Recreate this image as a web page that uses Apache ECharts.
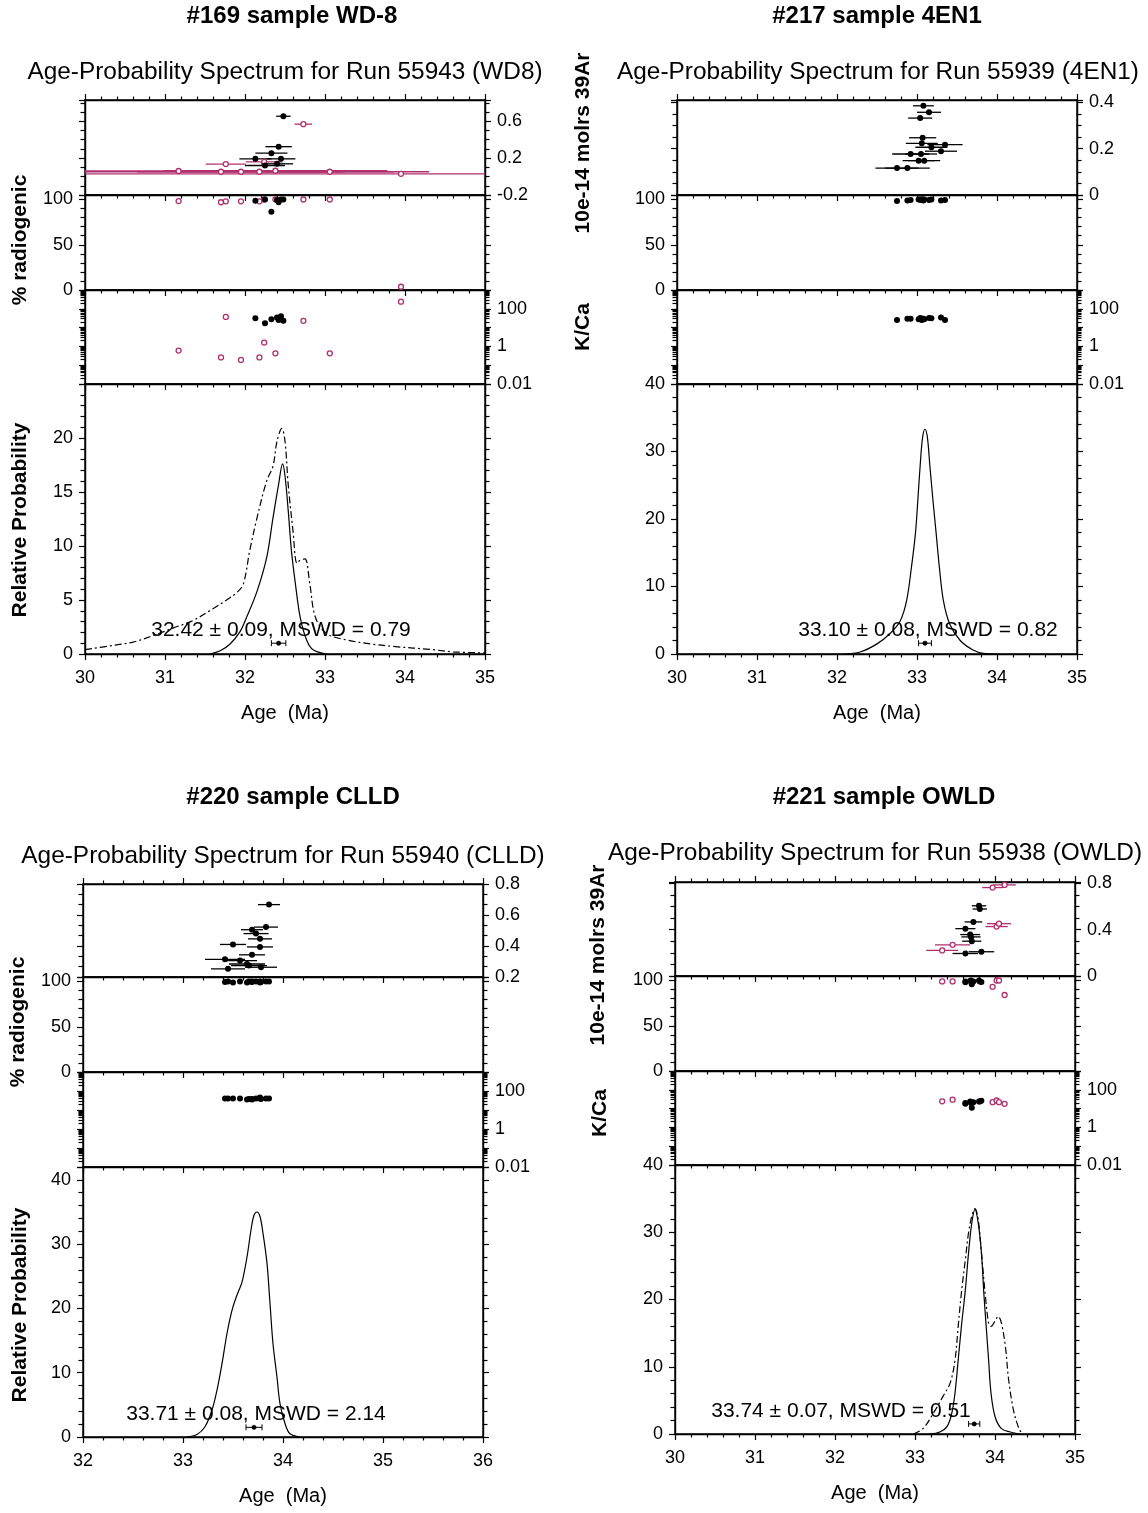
<!DOCTYPE html>
<html>
<head>
<meta charset="utf-8">
<title>Age-Probability Spectra</title>
<script src="https://cdn.jsdelivr.net/npm/echarts@6/dist/echarts.min.js"></script>
<style>
  html, body { margin: 0; padding: 0; background: #fff; }
  #chart { width: 1148px; height: 1513px; }
</style>
</head>
<body>
<div id="chart"></div>
<script>
// ---------- values ----------
// #169 WD-8 : included steps (black) / excluded steps (magenta)
const ages1In  = [32.13, 32.25, 32.33, 32.40, 32.42, 32.45, 32.48];
const moles1In = [0.192, 0.12, 0.253, 0.138, 0.324, 0.192, 0.654];
const err1In   = [0.20, 0.25, 0.20, 0.20, 0.165, 0.18, 0.09];
const rad1In   = [98.6, 100, 86.5, 99.4, 97, 100, 100];
const kca1In   = [31.6, 17, 28, 34, 25.5, 40, 23];

const ages1Ex  = [31.17, 31.70, 31.76, 31.95, 32.18, 32.24, 32.38, 32.73, 33.06, 33.95];
const moles1Ex = [0.06, 0.052, 0.135, 0.052, 0.052, 0.16, 0.063, 0.568, 0.052, 0.03];
const err1Ex   = [1.6, 2.6, 0.25, 1.3, 1.0, 0.23, 1.4, 0.11, 0.8, 4.0];
const rad1Ex   = [98.3, 97, 98, 98, 98, 100, 100, 100, 100, 3.6];
const kca1Ex   = [0.6, 0.26, 37, 0.19, 0.26, 1.6, 0.43, 23, 0.43, 240];

const prob1Solid = [[31.56,0],[31.69,0.3],[31.81,0.9],[31.94,2.1],[32.02,3.4],[32.15,5.8],[32.27,8.9],[32.35,12.6],[32.42,15.7],[32.47,17.6],[32.50,16.5],[32.54,13.3],[32.58,9.6],[32.63,6.5],[32.69,3.4],[32.77,1.3],[32.85,0.4],[33.02,0]];
const prob1Dashed = [[30.0,0.4],[30.35,0.8],[30.6,1.1],[30.85,1.7],[31.10,2.4],[31.35,3.1],[31.60,4.2],[31.77,5.0],[31.90,5.7],[31.98,6.5],[32.06,9.6],[32.15,12.6],[32.27,16.0],[32.35,17.4],[32.40,19.7],[32.46,20.9],[32.50,19.7],[32.54,15.7],[32.60,11.4],[32.65,8.4],[32.69,8.7],[32.75,8.8],[32.81,6.5],[32.88,3.4],[33.02,1.9],[33.27,1.3],[33.60,0.9],[33.85,0.7],[34.35,0.4],[34.60,0.2],[35.0,0.1]];
const mean1 = [32.42, 0.09, 1.0];

// #217 4EN1
const ages2  = [32.75, 32.88, 32.92, 33.02, 33.04, 33.05, 33.06, 33.07, 33.08, 33.09, 33.15, 33.18, 33.30, 33.35];
const moles2 = [0.116, 0.116, 0.177, 0.148, 0.332, 0.177, 0.223, 0.247, 0.385, 0.148, 0.357, 0.206, 0.189, 0.217];
const err2   = [0.27, 0.28, 0.23, 0.20, 0.15, 0.20, 0.20, 0.17, 0.13, 0.20, 0.15, 0.20, 0.20, 0.22];
const rad2   = [98.5, 99, 99.5, 100, 100, 99.5, 100, 100, 99, 100, 99.5, 100, 99, 99.5];
const kca2   = [25, 30, 30, 28, 32, 28, 25, 30, 30, 28, 32, 31, 34, 25];
const prob2  = [[32.08,0],[32.29,0.3],[32.50,1.5],[32.66,3.0],[32.79,4.9],[32.87,7.9],[32.93,12.8],[32.98,17.8],[33.01,22.7],[33.04,28.0],[33.07,32.1],[33.10,33.3],[33.13,32.1],[33.16,28.0],[33.20,22.7],[33.24,17.8],[33.28,12.8],[33.33,7.9],[33.41,4.4],[33.54,2.0],[33.70,0.6],[33.83,0.1],[34.0,0]];
const mean2 = [33.10, 0.08, 1.6];

// #220 CLLD
const ages3  = [33.42, 33.45, 33.50, 33.57, 33.64, 33.66, 33.69, 33.69, 33.73, 33.77, 33.77, 33.78, 33.83, 33.86];
const moles3 = [0.314, 0.253, 0.41, 0.306, 0.284, 0.274, 0.505, 0.343, 0.48, 0.446, 0.394, 0.263, 0.522, 0.667];
const err3   = [0.20, 0.17, 0.13, 0.17, 0.18, 0.18, 0.11, 0.13, 0.125, 0.12, 0.13, 0.16, 0.12, 0.11];
const rad3   = [99.5, 100, 99, 100, 99, 100, 99.5, 100, 100, 99, 100, 99.5, 100, 100];
const kca3   = [40, 40, 40, 40, 36, 38, 36, 38, 40, 45, 40, 38, 40, 40];
const prob3  = [[33.04,0],[33.14,0.4],[33.22,1.6],[33.29,4.2],[33.34,7.3],[33.39,11.4],[33.44,16.1],[33.49,19.7],[33.54,22.1],[33.59,24.1],[33.64,28.0],[33.68,32.2],[33.71,34.5],[33.74,35.0],[33.77,34.3],[33.80,31.7],[33.84,27.0],[33.87,20.8],[33.90,14.5],[33.94,9.3],[33.97,5.2],[34.02,2.1],[34.07,0.5],[34.17,0]];
const mean3 = [33.71, 0.08, 1.5];

// #221 OWLD
const ages4In  = [33.63, 33.63, 33.69, 33.70, 33.71, 33.73, 33.80, 33.81, 33.83];
const moles4In = [0.408, 0.194, 0.357, 0.337, 0.30, 0.466, 0.605, 0.577, 0.209];
const err4In   = [0.125, 0.16, 0.125, 0.12, 0.12, 0.11, 0.09, 0.09, 0.16];
const rad4In   = [98, 99, 99.5, 100, 96, 99, 100, 99, 98.5];
const kca4In   = [18, 20, 24, 20, 11, 22, 24, 24, 26];

const ages4Ex  = [33.34, 33.47, 33.97, 34.02, 34.05, 34.12];
const moles4Ex = [0.22, 0.269, 0.762, 0.426, 0.451, 0.785];
const err4Ex   = [0.20, 0.22, 0.13, 0.14, 0.15, 0.14];
const rad4Ex   = [99, 99, 93, 100, 100, 84];
const kca4Ex   = [24.5, 30, 22, 27, 22, 18];

const prob4Solid = [[33.19,0],[33.31,0.3],[33.40,1.1],[33.46,3.1],[33.50,6.1],[33.54,11.0],[33.58,16.0],[33.63,21.5],[33.67,27.0],[33.71,31.4],[33.75,33.4],[33.79,31.4],[33.83,27.0],[33.86,21.0],[33.89,16.0],[33.92,11.0],[33.95,6.1],[34.00,2.6],[34.08,0.8],[34.19,0.3],[34.31,0]];
const prob4Dashed = [[32.98,0],[33.10,0.8],[33.23,3.1],[33.35,5.6],[33.44,7.6],[33.50,11.0],[33.54,16.0],[33.58,21.0],[33.63,26.0],[33.67,30.0],[33.71,32.4],[33.75,33.5],[33.79,31.9],[33.83,27.0],[33.88,20.5],[33.92,16.5],[33.95,16.0],[34.00,16.8],[34.04,17.5],[34.08,16.5],[34.13,13.0],[34.17,8.1],[34.23,3.6],[34.29,1.1],[34.33,0.2],[34.36,0]];
const mean4 = [33.74, 0.07, 1.5];

// tick labels
const molesLabels1 = [-0.2, 0.2, 0.6];
const molesLabels2 = [0, 0.2, 0.4];
const molesLabels3 = [0.2, 0.4, 0.6, 0.8];
const molesLabels4 = [0, 0.4, 0.8];
const radLabels    = [0, 50, 100];
const kcaLabels    = [0.01, 1, 100];
const probLabels1  = [0, 5, 10, 15, 20];
const probLabels   = [0, 10, 20, 30, 40];

// ---------- layout / styling ----------
const FONT = "'Liberation Sans', Arial, Helvetica, sans-serif";
const MAG = '#b0306e';
const lineStyleAx = { color: '#000', width: 1.4 };
const tickStyle = { color: '#000', width: 1.2 };

const labelFmt = (labels, log) => v => {
  const hit = labels.find(l => log ? Math.abs(Math.log10(v) - Math.log10(l)) < 1e-6 : Math.abs(v - l) < 1e-6);
  return hit === undefined ? '' : String(hit);
};

const RAD = { min: 0, max: 105, interval: 50, split: 5, labels: radLabels, side: 'left' };
const KCA = { log: true, min: 0.01, max: 1000, interval: 1, split: 9, labels: kcaLabels, side: 'right' };

const panels = [
  {
    left: 85, width: 400, tops: [100, 195, 290, 384, 654], xRange: [30, 35],
    moles: { min: -0.2, max: 0.83, interval: 0.4, split: 4, labels: molesLabels1, side: 'right' },
    prob: { min: 0, max: 25, interval: 5, split: 5, labels: probLabels1, side: 'left' },
    sets: [
      { ages: ages1Ex, moles: moles1Ex, err: err1Ex, rad: rad1Ex, kca: kca1Ex, open: true },
      { ages: ages1In, moles: moles1In, err: err1In, rad: rad1In, kca: kca1In, open: false }
    ],
    curves: [{ data: prob1Dashed, dashed: true }, { data: prob1Solid, dashed: false }],
    mean: mean1
  },
  {
    left: 677, width: 400, tops: [100, 195, 290, 384, 654], xRange: [30, 35],
    moles: { min: 0, max: 0.41, interval: 0.2, split: 4, labels: molesLabels2, side: 'right' },
    prob: { min: 0, max: 40, interval: 10, split: 5, labels: probLabels, side: 'left' },
    sets: [{ ages: ages2, moles: moles2, err: err2, rad: rad2, kca: kca2, open: false }],
    curves: [{ data: prob2, dashed: false }],
    mean: mean2
  },
  {
    left: 83, width: 400, tops: [884, 977, 1072, 1167, 1437], xRange: [32, 36],
    moles: { min: 0.2, max: 0.8, interval: 0.2, split: 3, labels: molesLabels3, side: 'right' },
    prob: { min: 0, max: 42, interval: 10, split: 5, labels: probLabels, side: 'left' },
    sets: [{ ages: ages3, moles: moles3, err: err3, rad: rad3, kca: kca3, open: false }],
    curves: [{ data: prob3, dashed: false }],
    mean: mean3
  },
  {
    left: 675, width: 400, tops: [882, 976, 1071, 1165, 1434], xRange: [30, 35],
    moles: { min: 0, max: 0.81, interval: 0.4, split: 4, labels: molesLabels4, side: 'right' },
    prob: { min: 0, max: 40, interval: 10, split: 5, labels: probLabels, side: 'left' },
    sets: [
      { ages: ages4Ex, moles: moles4Ex, err: err4Ex, rad: rad4Ex, kca: kca4Ex, open: true },
      { ages: ages4In, moles: moles4In, err: err4In, rad: rad4In, kca: kca4In, open: false }
    ],
    curves: [{ data: prob4Dashed, dashed: true }, { data: prob4Solid, dashed: false }],
    mean: mean4
  }
];

// ---------- render helpers ----------
function errBar(params, api) {
  const cs = params.coordSys;
  const a = api.value(0), v = api.value(1), e = api.value(2);
  const p1 = api.coord([a - e, v]), p2 = api.coord([a + e, v]);
  const x1 = Math.max(p1[0], cs.x), x2 = Math.min(p2[0], cs.x + cs.width);
  return {
    type: 'line',
    shape: { x1: x1, y1: p1[1], x2: x2, y2: p1[1] },
    style: { stroke: api.visual('color'), lineWidth: 1.3 }
  };
}

function meanMark(params, api) {
  const a = api.value(0), e = api.value(1), v = api.value(2);
  const c = api.coord([a, v]), l = api.coord([a - e, v]), r = api.coord([a + e, v]);
  const st = { stroke: '#000', lineWidth: 1 };
  return {
    type: 'group',
    children: [
      { type: 'line', shape: { x1: l[0], y1: c[1], x2: r[0], y2: c[1] }, style: st },
      { type: 'line', shape: { x1: l[0], y1: c[1] - 3, x2: l[0], y2: c[1] + 3 }, style: st },
      { type: 'line', shape: { x1: r[0], y1: c[1] - 3, x2: r[0], y2: c[1] + 3 }, style: st },
      { type: 'circle', shape: { cx: c[0], cy: c[1], r: 2.2 }, style: { fill: '#000', stroke: '#000', lineWidth: 0.5 } }
    ]
  };
}

function makeX(gridIndex, p, position, withLabels) {
  return {
    type: 'value', gridIndex, position, min: p.xRange[0], max: p.xRange[1], interval: 1,
    axisLine: { show: true, onZero: false, lineStyle: lineStyleAx },
    axisTick: { show: true, inside: false, length: 6, lineStyle: tickStyle },
    minorTick: { show: true, splitNumber: 5, length: 3.5, lineStyle: tickStyle },
    splitLine: { show: false }, minorSplitLine: { show: false },
    axisLabel: { show: withLabels, color: '#000', fontSize: 18, fontFamily: FONT, margin: 15 }
  };
}

function makeY(gridIndex, d, position, withLabels) {
  const ax = {
    type: d.log ? 'log' : 'value', gridIndex, position, min: d.min, max: d.max, interval: d.interval,
    axisLine: { show: true, onZero: false, lineStyle: lineStyleAx },
    axisTick: { show: true, inside: false, length: 6, lineStyle: tickStyle },
    minorTick: { show: true, splitNumber: d.split, length: 4.5, lineStyle: tickStyle },
    splitLine: { show: false }, minorSplitLine: { show: false },
    axisLabel: {
      show: withLabels, color: '#000', fontSize: 18, fontFamily: FONT, margin: 12,
      showMinLabel: true, showMaxLabel: true, formatter: labelFmt(d.labels, d.log)
    }
  };
  if (d.log) ax.logBase = 10;
  return ax;
}

// ---------- assemble ----------
const grid = [], xAxis = [], yAxis = [], series = [];

panels.forEach(p => {
  const g0 = grid.length;
  for (let k = 0; k < 4; k++) {
    grid.push({ left: p.left, top: p.tops[k], width: p.width, height: p.tops[k + 1] - p.tops[k],
      show: true, borderColor: '#000', borderWidth: 1.4, backgroundColor: 'transparent' });
  }
  const xb = [];
  for (let k = 0; k < 4; k++) { xb.push(xAxis.length); xAxis.push(makeX(g0 + k, p, 'bottom', k === 3)); }
  xAxis.push(makeX(g0, p, 'top', false));

  const yl = [];
  [p.moles, RAD, KCA, p.prob].forEach((d, k) => {
    yl.push(yAxis.length);
    yAxis.push(makeY(g0 + k, d, 'left', d.side === 'left'));
    yAxis.push(makeY(g0 + k, d, 'right', d.side === 'right'));
  });

  p.sets.forEach(s => {
    series.push({
      type: 'custom', xAxisIndex: xb[0], yAxisIndex: yl[0], renderItem: errBar, silent: true,
      itemStyle: { color: s.open ? MAG : '#000' }, encode: { x: 0, y: 1 },
      data: s.ages.map((a, i) => [a, s.moles[i], s.err[i]])
    });
  });
  p.sets.forEach(s => {
    const look = s.open
      ? { symbolSize: 5, itemStyle: { color: '#fff', borderColor: MAG, borderWidth: 1.3, opacity: 1 } }
      : { symbolSize: 6, itemStyle: { color: '#000', opacity: 1 } };
    [['moles', 0], ['rad', 1], ['kca', 2]].forEach(([key, k]) => {
      series.push(Object.assign({
        type: 'scatter', xAxisIndex: xb[k], yAxisIndex: yl[k], silent: true,
        data: s.ages.map((a, i) => [a, s[key][i]])
      }, look));
    });
  });
  p.curves.forEach(c => {
    series.push({
      type: 'line', xAxisIndex: xb[3], yAxisIndex: yl[3], data: c.data, silent: true,
      showSymbol: false, smooth: 0.35,
      lineStyle: { color: '#000', width: 1.2, type: c.dashed ? [7, 3, 2, 3] : 'solid' }
    });
  });
  series.push({
    type: 'custom', xAxisIndex: xb[3], yAxisIndex: yl[3], renderItem: meanMark, silent: true,
    encode: { x: 0, y: 2 }, data: [p.mean]
  });
});

// ---------- text ----------
function txt(x, y, s, size, bold, rotate) {
  const font = (bold ? 'bold ' : '') + size + 'px ' + FONT;
  return {
    type: 'text', x, y, rotation: rotate ? Math.PI / 2 : 0, z: 100, silent: true,
    style: { text: s, font, fill: '#000', textAlign: 'center', textVerticalAlign: 'middle', align: 'center', verticalAlign: 'middle' }
  };
}

const graphic = [
  txt(292, 16, '#169 sample WD-8', 24, true),
  txt(877, 16, '#217 sample 4EN1', 24, true),
  txt(293, 797, '#220 sample CLLD', 24, true),
  txt(884, 797, '#221 sample OWLD', 24, true),
  txt(285, 72, 'Age-Probability Spectrum for Run 55943 (WD8)', 24.4, false),
  txt(878, 72, 'Age-Probability Spectrum for Run 55939 (4EN1)', 24.4, false),
  txt(283, 856, 'Age-Probability Spectrum for Run 55940 (CLLD)', 24.4, false),
  txt(875, 853, 'Age-Probability Spectrum for Run 55938 (OWLD)', 24.4, false),
  txt(20, 240, '% radiogenic', 21, true, true),
  txt(20, 520, 'Relative Probability', 21, true, true),
  txt(583, 143, '10e-14 molrs 39Ar', 21, true, true),
  txt(583, 327, 'K/Ca', 21, true, true),
  txt(18, 1022, '% radiogenic', 21, true, true),
  txt(20, 1305, 'Relative Probability', 21, true, true),
  txt(598, 955, '10e-14 molrs 39Ar', 21, true, true),
  txt(600, 1113, 'K/Ca', 21, true, true),
  txt(285, 713, 'Age  (Ma)', 20, false),
  txt(877, 713, 'Age  (Ma)', 20, false),
  txt(283, 1496, 'Age  (Ma)', 20, false),
  txt(875, 1493, 'Age  (Ma)', 20, false),
  txt(281, 630, '32.42 \u00b1 0.09, MSWD = 0.79', 21, false),
  txt(928, 630, '33.10 \u00b1 0.08, MSWD = 0.82', 21, false),
  txt(256, 1414, '33.71 \u00b1 0.08, MSWD = 2.14', 21, false),
  txt(841, 1411, '33.74 \u00b1 0.07, MSWD = 0.51', 21, false)
];

const chart = echarts.init(document.getElementById('chart'), null, { renderer: 'canvas' });
chart.setOption({
  backgroundColor: '#fff',
  animation: false,
  textStyle: { fontFamily: FONT },
  grid, xAxis, yAxis, series, graphic
});
</script>
</body>
</html>
